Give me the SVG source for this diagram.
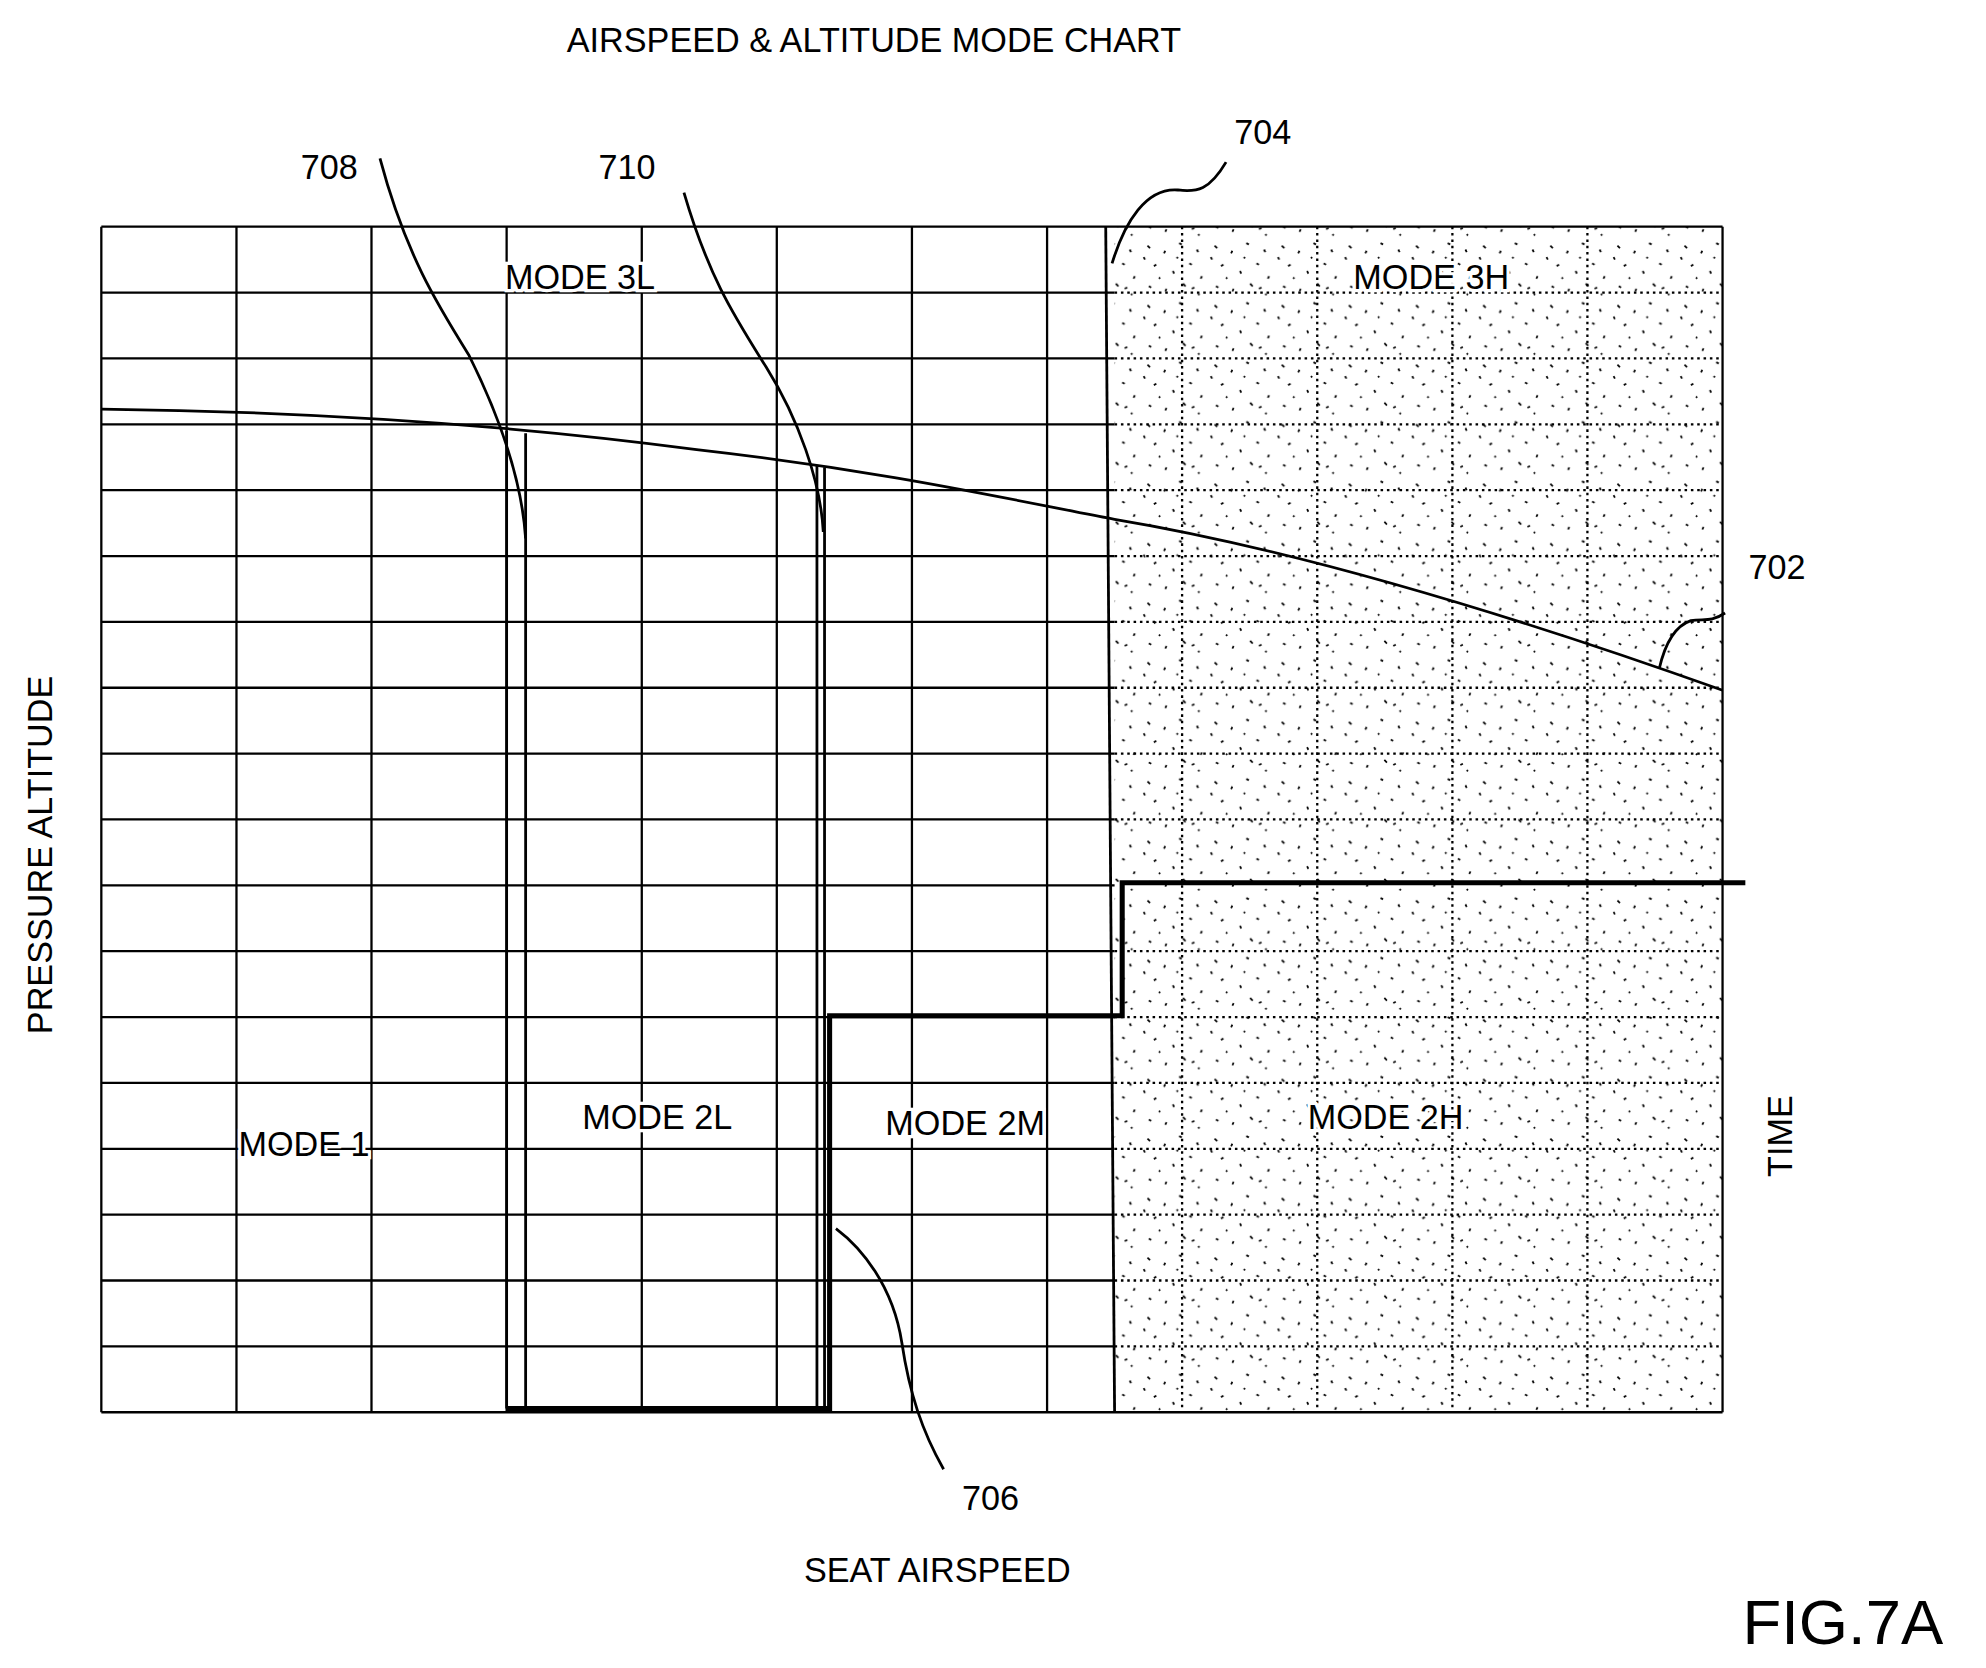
<svg xmlns="http://www.w3.org/2000/svg" width="1986" height="1668" viewBox="0 0 1986 1668">
<style>
text{font-family:"Liberation Sans",Arial,sans-serif;fill:#000}
.lbl{font-size:27px}
.m{stroke:#fff;stroke-width:5;paint-order:stroke}
.g{stroke:#000;stroke-width:1.8;fill:none}
.d{stroke:#000;stroke-width:1.8;fill:none;stroke-dasharray:2 3}
.t{stroke:#000;stroke-width:4;fill:none}
.c{stroke:#000;stroke-width:2.2;fill:none}
</style>
<defs>
<pattern id="st" width="53" height="47" patternUnits="userSpaceOnUse">
<g stroke="#000" stroke-width="1.4">
<path d="M5 6l2 2M18 12l1 -2M30 4l2 1M44 9l1 2M10 22l2 -1M25 26l1 2M38 20l2 1M48 30l-1 2M6 38l2 1M19 42l1 -2M33 36l2 2M45 44l1 1M14 31l1 1M28 15l1 1M40 40l2 -1M2 15l1 2"/>
</g>
</pattern>
</defs>
<rect width="1986" height="1668" fill="#fff"/>
<g transform="scale(1.26658)">
<rect x="880" y="179" width="480" height="936" fill="url(#st)"/>
<g id="grid">
<path class="g" d="M80 179H1360M80 1115H1360M80 179V1115M186.7 179V1115M293.3 179V1115M400 179V1115M506.7 179V1115M613.3 179V1115M720 179V1115M826.7 179V1115M1360 179V1115"/>
<path class="g" d="M80 231H880M80 283H880M80 335H880M80 387H880M80 439H880M80 491H880M80 543H880M80 595H880M80 647H880M80 699H880M80 751H880M80 803H880M80 855H880M80 907H880M80 959H880M80 1011H880M80 1063H880"/>
<path class="d" d="M880 231H1360M880 283H1360M880 335H1360M880 387H1360M880 439H1360M880 491H1360M880 543H1360M880 595H1360M880 647H1360M880 751H1360M880 803H1360M880 855H1360M880 907H1360M880 959H1360M880 1011H1360M880 1063H1360M933.3 179V1115M1040 179V1115M1146.7 179V1115M1253.3 179V1115"/>
</g>
<g id="labels">
<text class="lbl" x="690" y="41" text-anchor="middle">AIRSPEED &amp; ALTITUDE MODE CHART</text>
<text class="lbl" x="260" y="141" text-anchor="middle">708</text>
<text class="lbl" x="495" y="141" text-anchor="middle">710</text>
<text class="lbl" x="997" y="114" text-anchor="middle">704</text>
<text class="lbl" x="1403" y="457" text-anchor="middle">702</text>
<text class="lbl" x="782" y="1192" text-anchor="middle">706</text>
<text class="lbl" x="740" y="1249" text-anchor="middle">SEAT AIRSPEED</text>
<text class="lbl" transform="translate(41 675) rotate(-90)" text-anchor="middle">PRESSURE ALTITUDE</text>
<text class="lbl" transform="translate(1415 897) rotate(-90)" text-anchor="middle">TIME</text>
<text x="1455" y="1298" text-anchor="middle" font-size="50">FIG.7A</text>
<text class="lbl m" x="458" y="228" text-anchor="middle">MODE 3L</text>
<text class="lbl m" x="1130" y="228" text-anchor="middle">MODE 3H</text>
<text class="lbl m" x="240" y="913" text-anchor="middle">MODE 1</text>
<text class="lbl m" x="519" y="891" text-anchor="middle">MODE 2L</text>
<text class="lbl m" x="762" y="896" text-anchor="middle">MODE 2M</text>
<text class="lbl m" x="1094" y="891" text-anchor="middle">MODE 2H</text>
</g>
<g id="connectors">
<path class="c" d="M873 179L880 1115"/>
<path class="c" d="M80 323C250 325 400 335 550 355C700 372 800 395 880 410C1000 430 1150 470 1360 545"/>
<path class="c" d="M400 340V1112M415 342V1112M645 368V1112M651 369V1112"/>
<path class="t" d="M400 1112H655V802H886V697H1378"/>
<path class="c" d="M300 125C320 200 345 240 370 280C395 330 412 380 415 425"/>
<path class="c" d="M540 152C560 220 580 250 605 290C630 330 648 380 650 420"/>
<path class="c" d="M968 128C955 150 945 152 930 150C905 148 888 175 878 208"/>
<path class="c" d="M1362 484C1350 492 1345 488 1335 490C1320 495 1313 515 1310 528"/>
<path class="c" d="M745 1160C728 1130 718 1100 712 1060C705 1015 680 985 660 970"/>
</g>
</g>
</svg>
